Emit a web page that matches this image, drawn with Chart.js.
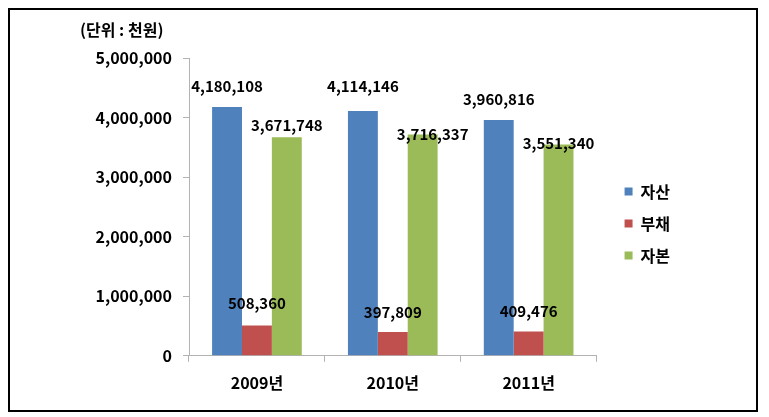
<!DOCTYPE html>
<html>
<head>
<meta charset="utf-8">
<script src="https://cdn.jsdelivr.net/npm/chart.js@4/dist/chart.umd.min.js"></script>
<style>
  html, body { margin: 0; padding: 0; background: #fff; }
  #box {
    position: absolute;
    left: 8px;
    top: 8px;
    width: 746px;
    height: 400px;
    border: 2px solid #000;
  }
</style>
</head>
<body>
<div id="box"><canvas id="chart"></canvas></div>
<script>
  // values (unit: 천원)
  var years = ['2009년', '2010년', '2011년'];
  var seriesNames = ['자산', '부채', '자본'];
  var assets = [4180108, 4114146, 3960816];
  var debts = [508360, 397809, 409476];
  var equity = [3671748, 3716337, 3551340];
  var yTicks = [0, 1000000, 2000000, 3000000, 4000000, 5000000];

  var colors = ['#4F81BD', '#C0504D', '#9BBB59'];
  var axisColor = '#B3B3B3';
  var fontFamily = "'Noto Sans CJK KR', 'Noto Sans', sans-serif";

  // label nudges (px) so the value labels sit like in the original
  var labelLift = [[21, 25, 21], [22, 20, 20], [12, 0, 1]];
  var labelShift = [[0, 0, 0], [0, 0, 0], [0, 10, 0]];

  function fmt(v) {
    return Number(v).toLocaleString('en-US');
  }

  var valueLabels = {
    id: 'valueLabels',
    afterDatasetsDraw: function(chart) {
      var ctx = chart.ctx;
      ctx.save();
      ctx.font = 'bold 15px ' + fontFamily;
      ctx.fillStyle = '#000';
      ctx.textAlign = 'center';
      ctx.textBaseline = 'middle';
      chart.data.datasets.forEach(function(ds, di) {
        chart.getDatasetMeta(di).data.forEach(function(bar, i) {
          ctx.fillText(fmt(ds.data[i]), bar.x + labelShift[di][i], bar.y - labelLift[di][i]);
        });
      });
      ctx.restore();
    }
  };

  // Excel puts the legend a bit lower and further right than Chart.js does
  var legendNudge = {
    id: 'legendNudge',
    afterLayout: function(chart) {
      var lg = chart.legend;
      lg.left += 12;
      lg.right += 12;
      lg.top += 16;
      lg.bottom += 16;
    }
  };

  var seriesData = [assets, debts, equity];

  new Chart(document.getElementById('chart'), {
    type: 'bar',
    data: {
      labels: years,
      datasets: seriesNames.map(function(name, i) {
        return {
          label: name,
          data: seriesData[i],
          backgroundColor: colors[i],
          borderWidth: 0,
          categoryPercentage: 0.66,
          barPercentage: 1.0
        };
      })
    },
    options: {
      responsive: true,
      maintainAspectRatio: false,
      animation: false,
      layout: { padding: { left: 70, right: 88, top: 0, bottom: 5 } },
      plugins: {
        title: {
          display: true,
          text: '(단위 : 천원)',
          align: 'start',
          color: '#000',
          font: { family: fontFamily, size: 16, weight: 'bold' },
          padding: { top: 10, bottom: 19 }
        },
        legend: {
          position: 'right',
          labels: {
            boxWidth: 8,
            boxHeight: 8,
            padding: 16,
            color: '#000',
            font: { family: fontFamily, size: 16, weight: 'bold' }
          }
        },
        tooltip: { enabled: false }
      },
      scales: {
        x: {
          grid: {
            offset: true,
            drawOnChartArea: false,
            tickLength: 6,
            color: axisColor
          },
          border: { color: axisColor },
          ticks: {
            color: '#000',
            padding: 12,
            font: { family: fontFamily, size: 16, weight: 'bold' }
          }
        },
        y: {
          min: 0,
          max: 5000000,
          afterBuildTicks: function(scale) {
            scale.ticks = yTicks.map(function(v) { return { value: v }; });
          },
          afterFit: function(scale) {
            scale.width = 109;
          },
          grid: {
            drawOnChartArea: false,
            tickLength: 6,
            color: axisColor
          },
          border: { color: axisColor },
          ticks: {
            color: '#000',
            padding: 11,
            font: { family: fontFamily, size: 16, weight: 'bold' },
            callback: function(v) { return fmt(v); }
          }
        }
      }
    },
    plugins: [valueLabels, legendNudge]
  });
</script>
</body>
</html>
